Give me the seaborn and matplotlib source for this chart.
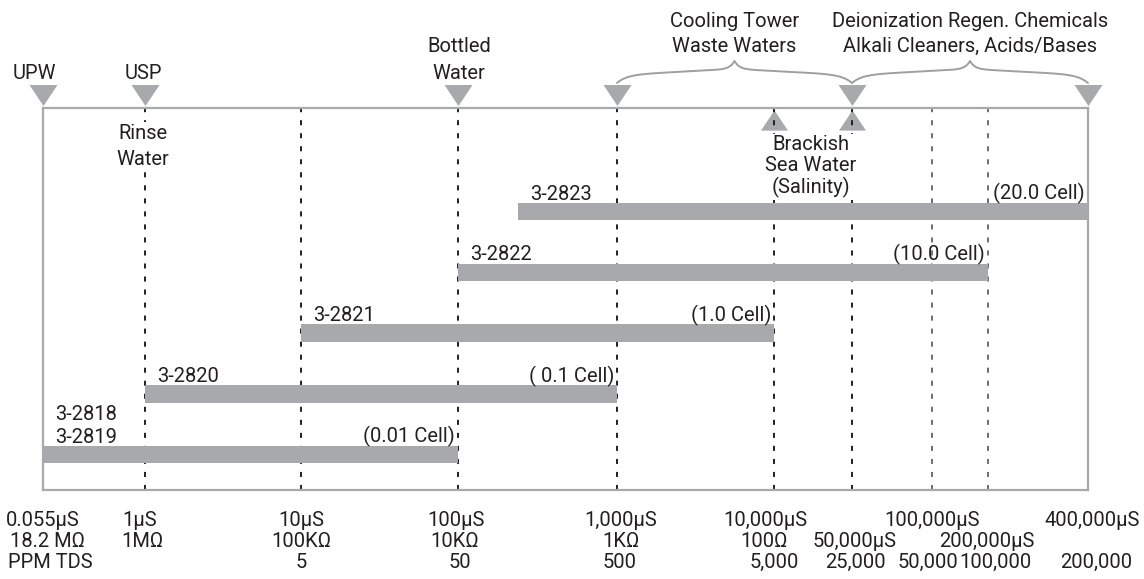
import numpy as np
import matplotlib
matplotlib.use("Agg")
import matplotlib.pyplot as plt
import matplotlib.transforms as mtransforms
from matplotlib.path import Path
from matplotlib.ticker import NullLocator
from matplotlib.font_manager import FontProperties
import seaborn as sns

# ---------------- data ----------------
MODELS = ["3-2818\n3-2819", "3-2820", "3-2821", "3-2822", "3-2823"]
RANGE_LOW = [0.055, 1, 10, 100, 240]
RANGE_HIGH = [100, 1000, 10000, 200000, 400000]
CELLS = ["(0.01 Cell)", "( 0.1 Cell)", "(1.0 Cell)", "(10.0 Cell)", "(20.0 Cell)"]

REF_LINES = [1, 10, 100, 1000, 10000, 50000, 100000, 200000, 400000]
LIGHT_LINES = [100000, 200000]

MARK_DOWN = [0.055, 1, 100, 1000, 50000, 400000]
MARK_DOWN_LABELS = ["UPW", "USP", "Bottled\nWater", "", "", ""]
MARK_UP = [10000, 50000]
NOTE_RINSE_AT = 1
NOTE_RINSE = "Rinse\nWater"
NOTE_SEA = "Brackish\nSea Water\n(Salinity)"
BRACE_SPANS = [(1000, 50000), (50000, 400000)]
BRACE_LABELS = ["Cooling Tower\nWaste Waters",
                "Deionization Regen. Chemicals\nAlkali Cleaners, Acids/Bases"]

ROW1_VALUES = [0.055, 1, 10, 100, 1000, 10000, 100000, 400000]
ROW1_LABELS = ["0.055µS", "1µS", "10µS", "100µS", "1,000µS", "10,000µS",
               "100,000µS", "400,000µS"]
ROW2_VALUES = [0.055, 1, 10, 100, 1000, 10000, 50000, 200000]
ROW2_LABELS = ["18.2 MΩ", "1MΩ", "100KΩ", "10KΩ", "1KΩ", "100Ω",
               "50,000µS", "200,000µS"]
ROW3_VALUES = [0.055, 10, 100, 1000, 10000, 50000, 100000, 200000, 400000]
ROW3_LABELS = ["PPM TDS", "5", "50", "500", "5,000", "25,000", "50,000",
               "100,000", "200,000"]

# ---------------- layout / style ----------------
W, H, DPI = 1144, 579, 100
PT = 72.0 / DPI  # points per pixel
SCALE_VALUES = [0.055, 1, 10, 100, 1000, 10000, 50000, 100000, 200000, 400000]
SCALE_POS = [43, 145, 301, 458, 617, 774, 852, 932, 988, 1088]
AX_L, AX_R, AX_T, AX_B = 43, 1088, 108, 490
ROW0_PX, ROW_STEP_PX, BAR_PX = 454.5, 60.75, 17.5

ROW1_DX = [0, -5, 0, -2, 4, -9, 0, 4]
ROW2_DX = [5, -3, 0, -3, 4, -10, 3, -1]
ROW3_DX = [7, 0, 2, 3, 0, 3, -4, 7, 8]
ROW_BASELINES = [526, 547, 568]
MARK_LABEL_DX = [-9, -2, 1, 0, 0, 0]

TXT = "#231f20"
GRAY = "#a7a9ac"
FS = 14.5

sns.set_theme(style="white")
plt.rcParams["font.family"] = ["Roboto", "DejaVu Sans"]
plt.rcParams["text.color"] = TXT

fig = plt.figure(figsize=(W / DPI, H / DPI), dpi=DPI)
fig.patch.set_facecolor("white")
ax = fig.add_axes([AX_L / W, (H - AX_B) / H, (AX_R - AX_L) / W, (AX_B - AX_T) / H])
ax.set_facecolor("white")

LOGV = np.log10(SCALE_VALUES)
POS = np.array(SCALE_POS, float)


def _ext(v, xs, ys):
    v = np.asarray(v, float)
    out = np.interp(v, xs, ys)
    s0 = (ys[1] - ys[0]) / (xs[1] - xs[0])
    s1 = (ys[-1] - ys[-2]) / (xs[-1] - xs[-2])
    out = np.where(v < xs[0], ys[0] + (v - xs[0]) * s0, out)
    out = np.where(v > xs[-1], ys[-1] + (v - xs[-1]) * s1, out)
    return out


def fwd(x):
    x = np.asarray(x, float)
    return _ext(np.log10(np.clip(x, 1e-300, None)), LOGV, POS)


def inv(p):
    return 10 ** _ext(np.asarray(p, float), POS, LOGV)


ax.set_xscale("function", functions=(fwd, inv))
ax.set_xlim(SCALE_VALUES[0], SCALE_VALUES[-1])
ylim = ((ROW0_PX - AX_B) / ROW_STEP_PX, (ROW0_PX - AX_T) / ROW_STEP_PX)
ax.set_ylim(*ylim)
ax.set_xticks([])
ax.set_yticks([])
ax.xaxis.set_minor_locator(NullLocator())
ax.yaxis.set_minor_locator(NullLocator())
for s in ax.spines.values():
    s.set_visible(True)
    s.set_color(GRAY)
    s.set_linewidth(1.6)

renderer = fig.canvas.get_renderer()
fp = FontProperties(family=["Roboto", "DejaVu Sans"], size=FS)
_, LP_H, LP_D = renderer.get_text_width_height_descent("lp", fp, ismath=False)


def ls_for(step):
    return (step - LP_D) / (LP_H - LP_D)


top_px = mtransforms.Affine2D().scale(1, -1).translate(0, H)
blend = mtransforms.blended_transform_factory(ax.transData, top_px)

# dashed reference lines
colors = ["#6d6e71" if v in LIGHT_LINES else TXT for v in REF_LINES]
ax.vlines(REF_LINES, ylim[0], ylim[1], colors=colors,
          linestyles=[(0, (2.6, 4.1))], linewidth=1.4, zorder=2)

# bars
rows = np.arange(len(MODELS))
bar_h = BAR_PX / ROW_STEP_PX
ax.barh(rows, np.array(RANGE_HIGH) - np.array(RANGE_LOW), left=RANGE_LOW,
        height=bar_h, color=GRAY, linewidth=0, zorder=3)

# (va="baseline" on multi-line text aligns the last line)
for i, (m, lo, hi, c) in enumerate(zip(MODELS, RANGE_LOW, RANGE_HIGH, CELLS)):
    top = i + bar_h / 2
    ax.annotate(m, xy=(lo, top), xytext=(12 * PT, 3 * PT),
                textcoords="offset points", ha="left", va="baseline",
                linespacing=ls_for(23), fontsize=FS, color=TXT, zorder=4)
    ax.annotate(c, xy=(hi, top), xytext=(-3 * PT, 3 * PT),
                textcoords="offset points", ha="right", va="baseline",
                fontsize=FS, color=TXT, zorder=4)

# triangles
down = Path([(-1, 0.75), (1, 0.75), (0, -0.75), (-1, 0.75)],
            [Path.MOVETO, Path.LINETO, Path.LINETO, Path.CLOSEPOLY])
up = Path([(-1, -0.75), (1, -0.75), (0, 0.75), (-1, -0.75)],
          [Path.MOVETO, Path.LINETO, Path.LINETO, Path.CLOSEPOLY])
ax.plot(MARK_DOWN, [95] * len(MARK_DOWN), transform=blend, ls="none",
        marker=down, ms=28 * PT, color=GRAY, mew=0, clip_on=False, zorder=5)
ax.plot(MARK_UP, [120] * len(MARK_UP), transform=blend, ls="none",
        marker=up, ms=27 * PT, color=GRAY, mew=0, clip_on=False, zorder=1.8)

# labels above the down markers
for v, lab, dx in zip(MARK_DOWN, MARK_DOWN_LABELS, MARK_LABEL_DX):
    if not lab:
        continue
    ax.annotate(lab, xy=(v, 79), xycoords=blend, xytext=(dx * PT, 0),
                textcoords="offset points", ha="center", va="baseline",
                linespacing=ls_for(27), fontsize=FS, color=TXT,
                annotation_clip=False)

# rinse water note
ax.annotate(NOTE_RINSE, xy=(NOTE_RINSE_AT, 165), xycoords=blend,
            xytext=(-2 * PT, 0), textcoords="offset points",
            ha="center", va="baseline", linespacing=ls_for(26), fontsize=FS,
            color=TXT, zorder=4, annotation_clip=False,
            bbox=dict(boxstyle="square,pad=0.12", fc="white", ec="none"))

# sea water note, centred between the two up markers
xu = [ax.transData.transform((v, 0))[0] for v in MARK_UP]
ax.text((xu[0] + xu[1]) / 2 - 2, 193, NOTE_SEA, transform=top_px,
        ha="center", va="baseline", linespacing=ls_for(20.5), fontsize=FS,
        color=TXT, zorder=4, clip_on=False,
        bbox=dict(boxstyle="square,pad=0.12", fc="white", ec="none"))


# braces
def brace_curve(x0, x1, y_end, height, n=120):
    u = np.linspace(0, 1, n)
    r = 8 * (1 - np.exp(-12 * u)) + 6 * u + 8 * np.exp(-25 * (1 - u))
    r = (r - r[0]) / (r[-1] - r[0]) * height
    half = (x1 - x0) / 2
    xs = np.concatenate([x0 + u * half, x1 - u[::-1] * half])
    ys = np.concatenate([y_end - r, y_end - r[::-1]])
    return xs, ys


for (a, b), lab in zip(BRACE_SPANS, BRACE_LABELS):
    x0 = ax.transData.transform((a, 0))[0]
    x1 = ax.transData.transform((b, 0))[0]
    bx, by = brace_curve(x0, x1, 83, 22)
    ax.plot(bx, by, transform=top_px, color="#9d9fa2", lw=1.4,
            clip_on=False, zorder=5, solid_capstyle="round")
    ax.text((x0 + x1) / 2, 52, lab, transform=top_px, ha="center",
            va="baseline", linespacing=ls_for(25), fontsize=FS, color=TXT,
            clip_on=False)

# bottom three-row scale labels
for vals, labs, dxs, base in zip(
        [ROW1_VALUES, ROW2_VALUES, ROW3_VALUES],
        [ROW1_LABELS, ROW2_LABELS, ROW3_LABELS],
        [ROW1_DX, ROW2_DX, ROW3_DX], ROW_BASELINES):
    for v, lab, dx in zip(vals, labs, dxs):
        ax.annotate(lab, xy=(v, base), xycoords=blend, xytext=(dx * PT, 0),
                    textcoords="offset points", ha="center", va="baseline",
                    fontsize=FS, color=TXT, annotation_clip=False)

ax.set_xlim(SCALE_VALUES[0], SCALE_VALUES[-1])
ax.set_ylim(*ylim)
fig.savefig("out.png", dpi=DPI, facecolor="white")
